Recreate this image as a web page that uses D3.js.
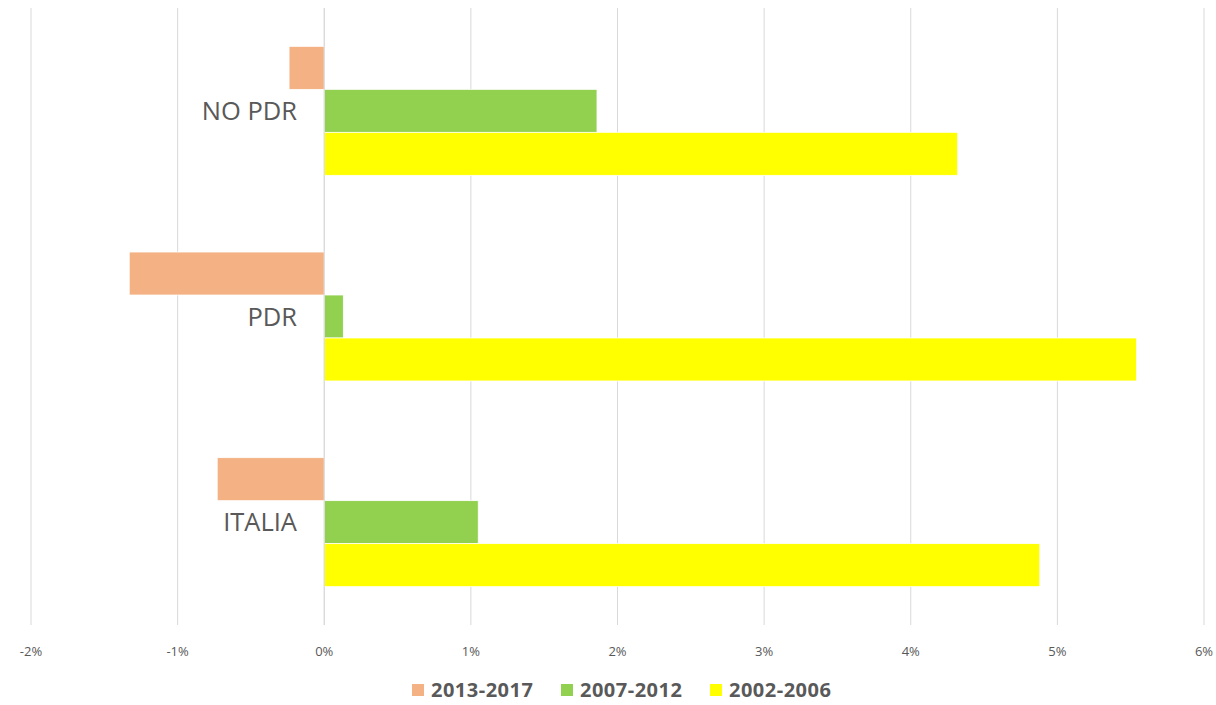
<!DOCTYPE html>
<html>
<head>
<meta charset="utf-8">
<script src="https://cdn.jsdelivr.net/npm/d3@7"></script>
<style>
  body { margin: 0; background: #fff; }
  text { font-family: "Open Sans", "Liberation Sans", sans-serif; }
</style>
</head>
<body>
<svg id="chart"></svg>
<script>
// data (percent)
const categories = ['NO PDR', 'PDR', 'ITALIA'];
const series = ['2013-2017', '2007-2012', '2002-2006'];
const colors = ['#F4B183', '#92D050', '#FFFF00'];
const v2013_2017 = [-0.24, -1.33, -0.73];
const v2007_2012 = [1.86, 0.13, 1.05];
const v2002_2006 = [4.32, 5.54, 4.88];
const xTicks = [-2, -1, 0, 1, 2, 3, 4, 5, 6];

const values = [v2013_2017, v2007_2012, v2002_2006];
const width = 1216, height = 705;
const svg = d3.select('#chart').attr('width', width).attr('height', height);

const x = d3.scaleLinear().domain([-2, 6]).range([31, 1204]);
const y = d3.scaleBand().domain(categories).range([8, 625])
  .paddingInner(0.373).paddingOuter(0.1865);
const ySub = d3.scaleBand().domain(series).range([0, y.bandwidth()]);

// gridlines
svg.append('g').selectAll('line')
  .data(xTicks)
  .enter().append('line')
  .attr('x1', d => x(d)).attr('x2', d => x(d))
  .attr('y1', 8).attr('y2', 625)
  .style('stroke', '#d9d9d9')
  .style('stroke-width', 1);

// tick labels
svg.append('g').selectAll('text')
  .data(xTicks)
  .enter().append('text')
  .attr('x', d => x(d)).attr('y', 656)
  .attr('text-anchor', 'middle')
  .style('font-size', '13px')
  .style('fill', '#595959')
  .text(d => d + '%');

// bars
const rows = [];
categories.forEach((c, i) => {
  series.forEach((s, j) => rows.push({cat: c, ser: s, val: values[j][i], color: colors[j]}));
});
svg.append('g').selectAll('rect')
  .data(rows)
  .enter().append('rect')
  .attr('x', d => x(Math.min(0, d.val)))
  .attr('width', d => Math.abs(x(d.val) - x(0)))
  .attr('y', d => y(d.cat) + ySub(d.ser))
  .attr('height', ySub.bandwidth())
  .style('fill', d => d.color)
  .style('stroke', '#fff')
  .style('stroke-width', 0.75);

// zero line over bars
svg.append('line')
  .attr('x1', x(0)).attr('x2', x(0)).attr('y1', 8).attr('y2', 625)
  .style('stroke', '#d9d9d9');

// category labels
svg.append('g').selectAll('text')
  .data(categories)
  .enter().append('text')
  .attr('x', 297)
  .attr('y', d => y(d) + y.bandwidth() / 2)
  .attr('dy', '0.36em')
  .attr('text-anchor', 'end')
  .style('font-size', '25.5px')
  .style('fill', '#595959')
  .text(d => d);

// legend
const legendX = [412, 561, 710];
const lg = svg.append('g').selectAll('g')
  .data(series)
  .enter().append('g')
  .attr('transform', (d, i) => `translate(${legendX[i]},684)`);
lg.append('rect').attr('width', 12).attr('height', 12)
  .style('fill', (d, i) => colors[i]);
lg.append('text').attr('x', 19).attr('y', 6).attr('dy', '0.36em')
  .style('font-size', '20px').style('font-weight', 'bold')
  .style('letter-spacing', '0.5px')
  .style('fill', '#595959')
  .text(d => d);
</script>
</body>
</html>
